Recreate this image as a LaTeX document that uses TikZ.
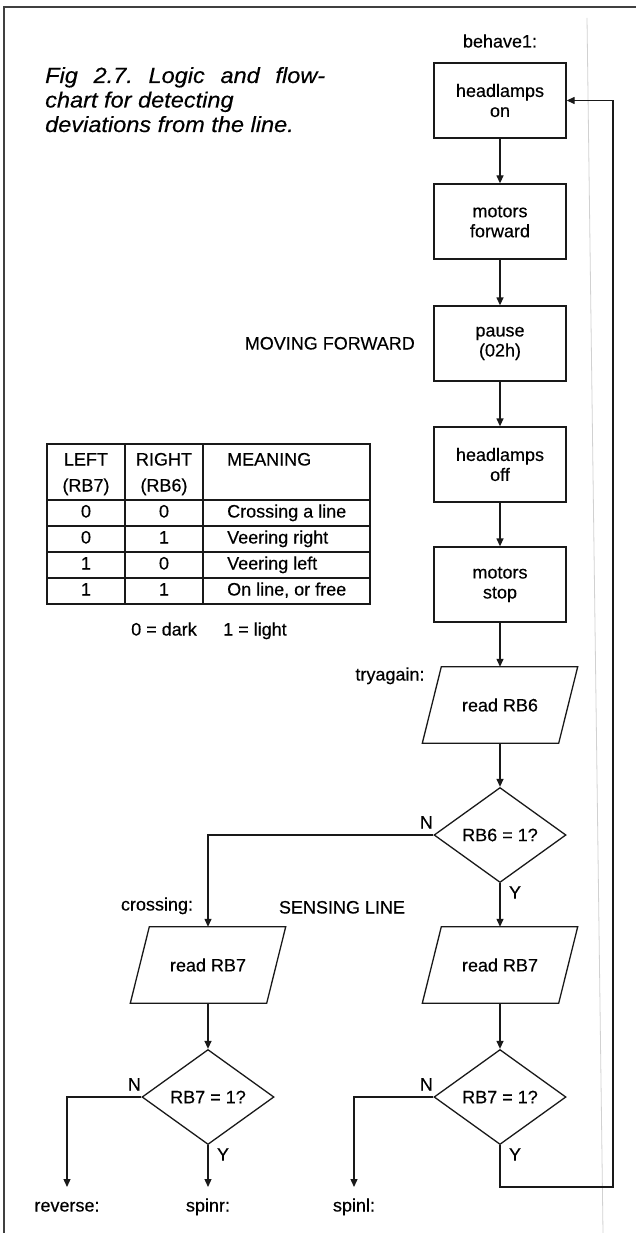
\documentclass[tikz,border=0pt]{standalone}
\usepackage{fontspec}
\setmainfont{Liberation Sans}[FakeBold=0.35]
\newfontfamily\ttlfam[FakeStretch=1.07,FakeBold=0.35]{Liberation Sans}
\usetikzlibrary{shapes.geometric,arrows.meta,calc}
\newcommand\txt{\fontsize{18}{20}\selectfont}
\newcommand\ttlfont{\ttlfam\fontsize{22}{24}\selectfont\itshape}
\newcommand\pgramline[1]{\draw[ln] ([xshift=9.5pt]#1.north west) -- ([xshift=9.5pt]#1.north east) -- ([xshift=-9.5pt]#1.south east) -- ([xshift=-9.5pt]#1.south west) -- cycle;}
\tikzset{
 ln/.style={line width=1.3pt, draw=black!90},
 tl/.style={line width=1.1pt, draw=black!90},
 arr/.style={ln, -{Triangle[length=8pt,width=7pt]}},
 box/.style={ln, rectangle, minimum width=132pt, minimum height=75pt, inner sep=0pt, align=center, font=\txt},
 dia/.style={ln, diamond, minimum width=132pt, minimum height=95pt, inner sep=0pt, font=\txt},
 pg/.style={rectangle, minimum width=136pt, minimum height=76pt, inner sep=0pt, font=\txt},
 lbl/.style={inner sep=0pt, font=\txt, text height=13pt, text depth=4pt},
 endl/.style={lbl, outer ysep=11.5pt},
 ttl/.style={inner sep=0pt, font=\ttlfont, anchor=base west},
}
\begin{document}
\begin{tikzpicture}[x=1pt,y=-1pt]
\useasboundingbox (0,0) rectangle (636,1233);
% frame and gutter
\draw[line width=1.6pt, black!75] (4,1233) -- (4,7) -- (636,7);
\draw[line width=0.8pt, black!18] (587,18) -- (603,1233);
% title
\node[ttl] (t1) at (45,83) {\makebox[280pt]{Fig\hfill 2.7.\hfill Logic\hfill and\hfill flow-}};
\node[ttl] (t2) at (45,107.5) {chart for detecting};
\node[ttl] (t3) at (45,132) {deviations from the line.};
% main column
\node[lbl] (beh) at (500,43) {behave1:};
\node[box] (b1) at (500,100.5) {headlamps\\on};
\node[box] (b2) at (500,221.5) {motors\\forward};
\node[box] (b3) at (500,343.5) {pause\\(02h)};
\node[box] (b4) at (500,464.5) {headlamps\\off};
\node[box] (b5) at (500,584.5) {motors\\stop};
\node[lbl, anchor=east] (mov) at (415,345) {MOVING FORWARD};
\node[lbl] (try) at (390,676) {tryagain:};
\node[pg] (r6) at (500,705) {read RB6};
\pgramline{r6}
\node[dia] (d6) at (500,835) {RB6 = 1?};
\node[lbl] (sens) at (342,909) {SENSING LINE};
\node[lbl] (cross) at (157,906) {crossing:};
\node[pg] (r7a) at (208,965) {read RB7};
\pgramline{r7a}
\node[pg] (r7b) at (500,965) {read RB7};
\pgramline{r7b}
\node[dia] (d7a) at (208,1097) {RB7 = 1?};
\node[dia] (d7b) at (500,1097) {RB7 = 1?};
\node[endl] (rev) at (67,1207) {reverse:};
\node[endl] (spr) at (208,1207) {spinr:};
\node[endl] (spl) at (354,1207) {spinl:};
\coordinate (loop) at (613,1187);
% branch labels
\node[lbl] (n6) at ($(d6.west)+(-7,-11)$) {N};
\node[lbl] (y6) at ($(d6.south)+(15,11)$) {Y};
\node[lbl] (n7a) at ($(d7a.west)+(-7,-11)$) {N};
\node[lbl] (y7a) at ($(d7a.south)+(15,11)$) {Y};
\node[lbl] (n7b) at ($(d7b.west)+(-7,-11)$) {N};
\node[lbl] (y7b) at ($(d7b.south)+(15,11)$) {Y};
% connectors
\draw[arr] (b1) -- (b2);
\draw[arr] (b2) -- (b3);
\draw[arr] (b3) -- (b4);
\draw[arr] (b4) -- (b5);
\draw[arr] (b5) -- (r6);
\draw[arr] (r6) -- (d6);
\draw[arr] (d6.west) -| (r7a.north);
\draw[arr] (d6) -- (r7b);
\draw[arr] (r7a) -- (d7a);
\draw[arr] (r7b) -- (d7b);
\draw[arr] (d7a.west) -| (rev.north);
\draw[arr] (d7a.south) -- (spr.north);
\draw[arr] (d7b.west) -| (spl.north);
\draw[arr] (d7b.south) |- (loop) |- (b1.east);
% table
\draw[tl] (47,444) rectangle (370,604);
\foreach \yy in {500,526,552,578} \draw[tl] (47,\yy) -- (370,\yy);
\foreach \xx in {125,203} \draw[tl] (\xx,444) -- (\xx,604);
\node[lbl] (h1a) at (86,461) {LEFT};
\node[lbl] (h1b) at (86,487) {(RB7)};
\node[lbl] (h2a) at (164,461) {RIGHT};
\node[lbl] (h2b) at (164,487) {(RB6)};
\node[lbl, anchor=west] (h3) at (227,461) {MEANING};
\node[lbl] (c11) at (86,513) {0};
\node[lbl] (c12) at (164,513) {0};
\node[lbl, anchor=west] (c13) at (227,513) {Crossing a line};
\node[lbl] (c21) at (86,539) {0};
\node[lbl] (c22) at (164,539) {1};
\node[lbl, anchor=west] (c23) at (227,539) {Veering right};
\node[lbl] (c31) at (86,565) {1};
\node[lbl] (c32) at (164,565) {0};
\node[lbl, anchor=west] (c33) at (227,565) {Veering left};
\node[lbl] (c41) at (86,591) {1};
\node[lbl] (c42) at (164,591) {1};
\node[lbl, anchor=west] (c43) at (227,591) {On line, or free};
\node[lbl] (k0) at (164,631) {0 = dark};
\node[lbl] (k1) at (255,631) {1 = light};
\end{tikzpicture}
\end{document}
